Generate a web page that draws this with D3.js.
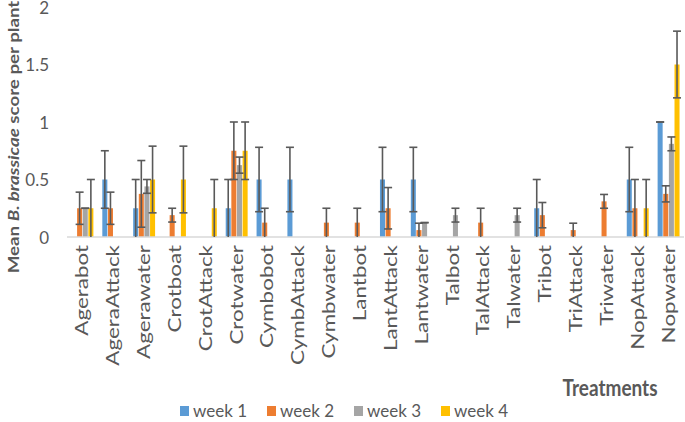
<!DOCTYPE html>
<html><head><meta charset="utf-8">
<script src="https://cdn.jsdelivr.net/npm/d3@7"></script>
<style>
html,body{margin:0;padding:0;background:#fff;}
svg{display:block;font-family:Lato,"Liberation Sans",sans-serif;}
</style></head>
<body>
<svg id="chart" width="685" height="422"></svg>
<script>
const categories = ["Agerabot","AgeraAttack","Agerawater","Crotboat","CrotAttack","Crotwater","Cymbobot","CymbAttack","Cymbwater","Lantbot","LantAttack","Lantwater","Talbot","TalAttack","Talwater","Tribot","TriAttack","Triwater","NopAttack","Nopwater"];
const seriesNames = ["week 1","week 2","week 3","week 4"];
const week1 = [0,0.5,0.25,0,0,0.25,0.5,0.5,0,0,0.5,0.5,0,0,0,0.25,0,0,0.5,1.0];
const week2 = [0.25,0.25,0.375,0.19,0,0.75,0.125,0,0.125,0.125,0.25,0.06,0,0.125,0,0.19,0.06,0.31,0.25,0.375];
const week3 = [0.25,0,0.44,0,0,0.625,0,0,0,0,0,0.125,0.19,0,0.19,0,0,0,0,0.81];
const week4 = [0.25,0,0.5,0.5,0.25,0.75,0,0,0,0,0,0,0,0,0,0,0,0,0.25,1.5];
const err1 = [0,0.25,0.25,0,0,0.25,0.28,0.28,0,0,0.28,0.28,0,0,0,0.25,0,0,0.28,0];
const err2 = [0.14,0.14,0.29,0.06,0,0.25,0.125,0,0.125,0.125,0.18,0.06,0,0.125,0,0.11,0.06,0.06,0.25,0.07];
const err3 = [0,0,0.06,0,0,0.07,0,0,0,0,0,0,0.06,0,0.06,0,0,0,0,0.06];
const err4 = [0.25,0,0.29,0.29,0.25,0.25,0,0,0,0,0,0,0,0,0,0,0,0,0.25,0.29];
const yTicks = [0,0.5,1,1.5,2];
const colors = ["#5B9BD5","#ED7D31","#A5A5A5","#FFC000"];

const values = [week1,week2,week3,week4];
const errors = [err1,err2,err3,err4];

const svg = d3.select("#chart");
const mLeft = 67, mRight = 684, mTop = 7, mBottom = 237;
const x0 = d3.scaleBand().domain(categories).range([mLeft,mRight]).paddingInner(0.27).paddingOuter(0.135);
const x1 = d3.scaleBand().domain(seriesNames).range([0,x0.bandwidth()]);
const y = d3.scaleLinear().domain([0,2]).range([mBottom,mTop]);

const textColor = "#595959";

// y axis labels
svg.append("g").selectAll("text").data(yTicks).join("text")
  .attr("transform",d=>`translate(49,${y(d)+0.5})`).attr("dy","0.36em")
  .attr("text-anchor","end").attr("fill",textColor).attr("font-size",17)
  .text(d=>d);

// bars
const rows = [];
categories.forEach((c,i)=>seriesNames.forEach((s,j)=>rows.push({c,s,j,v:values[j][i],e:errors[j][i]})));
const plotted = rows.filter(d=>d.v>0);
svg.append("g").selectAll("rect").data(plotted).join("rect")
  .attr("x",d=>x0(d.c)+x1(d.s)+0.3)
  .attr("width",x1.bandwidth()-0.6)
  .attr("y",d=>y(d.v))
  .attr("height",d=>y(0)-y(d.v))
  .attr("fill",d=>colors[d.j]);

// axis line
svg.append("line").attr("x1",mLeft).attr("x2",mRight).attr("y1",mBottom).attr("y2",mBottom)
  .attr("stroke","#D9D9D9").attr("stroke-width",1.3);

// error bars
const eg = svg.append("g").attr("stroke","#595959").attr("stroke-width",1.6).attr("fill","none");
plotted.forEach(d=>{
  const cx = x0(d.c)+x1(d.s)+x1.bandwidth()/2;
  const hi = d.v+d.e, lo = Math.max(0,d.v-d.e);
  eg.append("line").attr("x1",cx).attr("x2",cx).attr("y1",y(hi)).attr("y2",y(lo));
  eg.append("line").attr("x1",cx-4).attr("x2",cx+4).attr("y1",y(hi)).attr("y2",y(hi));
  if (d.v-d.e > 0.001) eg.append("line").attr("x1",cx-4).attr("x2",cx+4).attr("y1",y(lo)).attr("y2",y(lo));
});

// x labels
svg.append("g").selectAll("text").data(categories).join("text")
  .attr("transform",d=>`translate(${x0(d)+x0.bandwidth()/2},245) rotate(-90) scale(1.32,1)`)
  .attr("dy","0.35em").attr("text-anchor","end")
  .attr("fill",textColor).attr("font-size",17).text(d=>d);

// y title
const yt = svg.append("text").attr("transform","translate(19,137) rotate(-90) scale(1.17,1)")
  .attr("text-anchor","middle").attr("font-size",16).attr("font-weight","bold").attr("fill",textColor);
yt.append("tspan").text("Mean ");
yt.append("tspan").attr("font-style","italic").text("B. brassicae");
yt.append("tspan").text(" score per plant");

// x title
svg.append("text").attr("transform","translate(610,388) scale(1,1.2)").attr("dy","0.35em").attr("text-anchor","middle")
  .attr("font-size",19).attr("font-weight","bold").attr("fill",textColor).text("Treatments");

// legend
const legX = [180,267,354,441];
const lg = svg.append("g").selectAll("g").data(seriesNames).join("g")
  .attr("transform",(d,i)=>`translate(${legX[i]},411)`);
lg.append("rect").attr("x",0).attr("y",-5).attr("width",9).attr("height",10).attr("fill",(d,i)=>colors[i]);
lg.append("text").attr("x",13).attr("dy","0.35em").attr("font-size",17).attr("fill",textColor).text(d=>d);
</script>
</body></html>
